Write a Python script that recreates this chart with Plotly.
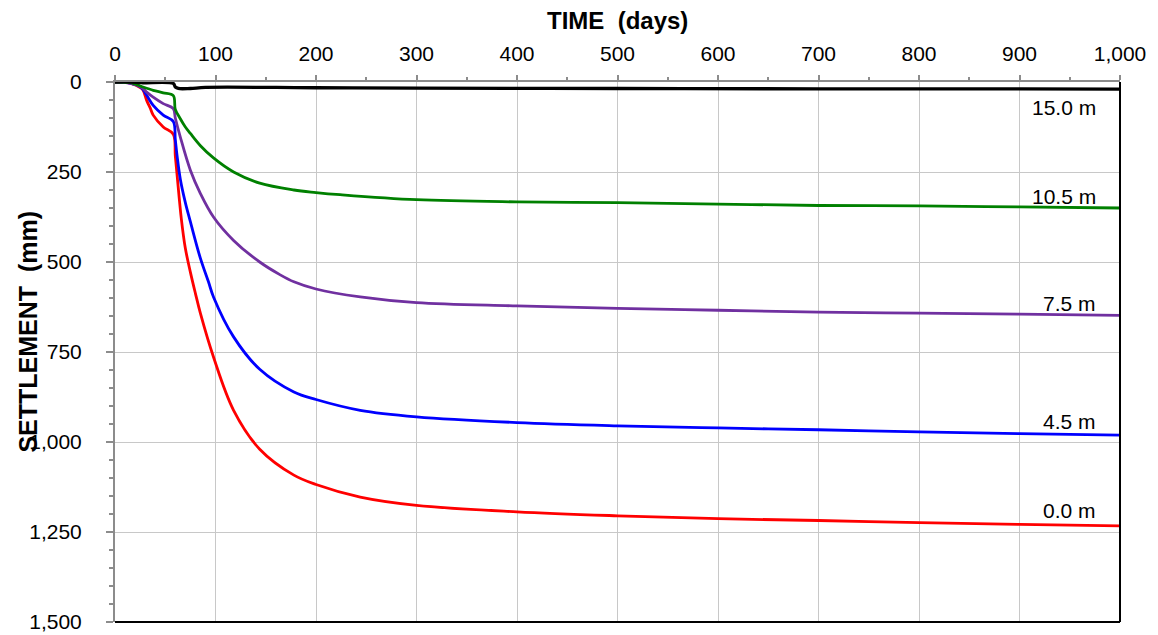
import plotly.graph_objects as go

# Settlement (mm) versus time (days) for points at several depths
days_00 = [0, 15, 26, 28, 31.5, 35, 38, 48, 58, 60, 62, 66, 70, 75, 80, 85, 98, 118, 144, 178, 200, 244, 300, 400, 500, 600, 700, 800, 900, 1000]
settle_00 = [0, 3, 17, 23, 51, 72, 92, 125, 145, 205, 265, 380, 462, 528, 587, 643, 764, 912, 1020, 1092, 1118, 1153, 1176, 1194, 1205, 1213, 1218, 1224, 1229, 1233]

days_45 = [0, 15, 26, 31.5, 38, 48, 58, 60, 62, 65, 70, 75, 85, 93, 98, 118, 144, 178, 200, 244, 300, 400, 500, 600, 700, 800, 900, 1000]
settle_45 = [0, 3, 15, 37, 65, 92, 110, 160, 210, 270, 335, 388, 490, 555, 597, 708, 798, 861, 882, 912, 930, 946, 955, 961, 966, 972, 977, 981]

days_75 = [0, 15, 26, 31.5, 38, 48, 58, 60, 65, 75, 85, 98, 118, 144, 164, 178, 200, 244, 300, 400, 500, 600, 700, 800, 900, 1000]
settle_75 = [0, 3, 14, 28, 42, 60, 74, 100, 153, 245, 310, 375, 440, 500, 535, 555, 575, 597, 613, 622, 629, 634, 639, 642, 645, 648]

days_105 = [0, 15, 26, 28, 38, 48, 58, 60, 65, 70, 75, 85, 98, 118, 144, 178, 200, 224, 300, 400, 500, 600, 700, 800, 900, 1000]
settle_105 = [0, 2, 12, 14, 23, 30, 38, 76, 102, 125, 143, 177, 211, 250, 281, 300, 307, 313, 327, 333, 335, 339, 343, 344, 347, 350]

days_150 = [0, 15, 26, 58, 60, 63, 75, 90, 200, 300, 500, 700, 900, 1000]
settle_150 = [0, 0, 2, 4, 14, 18, 18, 15, 16, 17, 18, 19, 19, 20]

series = [
    ("0.0 m", days_00, settle_00, "#FF0000", 2.8),
    ("4.5 m", days_45, settle_45, "#0000FF", 2.8),
    ("7.5 m", days_75, settle_75, "#7030A0", 2.8),
    ("10.5 m", days_105, settle_105, "#008000", 2.8),
    ("15.0 m", days_150, settle_150, "#000000", 3.3),
]

# Depth labels placed just above the right-hand end of each curve
label_text = ["15.0 m", "10.5 m", "7.5 m", "4.5 m", "0.0 m"]
label_y = [72, 317, 614, 942, 1190]
label_x = 978

FONT = "Liberation Sans, Arial, sans-serif"

fig = go.Figure()
for name, x, y, color, width in series:
    fig.add_trace(go.Scatter(
        x=x, y=y, mode="lines", name=name,
        line=dict(color=color, width=width, shape="spline", smoothing=1.0),
        showlegend=False,
    ))

for txt, yv in zip(label_text, label_y):
    fig.add_annotation(
        x=label_x, y=yv, xref="x", yref="y", text=txt,
        showarrow=False, xanchor="right", yanchor="middle",
        font=dict(family=FONT, size=21, color="black"),
    )

# Axis titles
fig.add_annotation(
    x=0.5, y=1.1148, xref="paper", yref="paper", text="<b>TIME  (days)</b>",
    showarrow=False, xanchor="center", yanchor="middle",
    font=dict(family=FONT, size=24, color="black"),
)
fig.add_annotation(
    x=-0.087, y=0.537, xref="paper", yref="paper", text="<b>SETTLEMENT  (mm)</b>",
    showarrow=False, xanchor="center", yanchor="middle", textangle=-90,
    font=dict(family=FONT, size=25, color="black"),
)

# Black frame on the bottom and right edges of the plot area
fig.add_shape(type="line", xref="paper", yref="paper", x0=0, y0=0, x1=1, y1=0,
              line=dict(color="black", width=2))
fig.add_shape(type="line", xref="paper", yref="paper", x0=1, y0=0, x1=1, y1=1,
              line=dict(color="black", width=2))

fig.update_layout(
    width=1158, height=635,
    margin=dict(l=115, r=38, t=82, b=13),
    paper_bgcolor="white", plot_bgcolor="white",
    font=dict(family=FONT, size=21, color="black"),
    xaxis=dict(
        side="top", range=[0, 1000], dtick=100, tick0=0, tickformat=",d",
        automargin=False,
        showgrid=True, gridcolor="#C8C8C8", gridwidth=1.3, zeroline=False,
        showline=True, linecolor="#8C8C8C", linewidth=2,
        ticks="outside", ticklen=5, tickcolor="#8C8C8C", tickwidth=1.5,
        ticklabelstandoff=6,
        minor=dict(dtick=50, ticks="outside", ticklen=3, tickcolor="#8C8C8C", tickwidth=1.5, showgrid=False),
        tickfont=dict(family=FONT, size=21, color="black"),
    ),
    yaxis=dict(
        range=[1500, 0], dtick=250, tick0=0, tickformat=",d",
        automargin=False,
        showgrid=True, gridcolor="#C8C8C8", gridwidth=1.3, zeroline=False,
        showline=True, linecolor="#8C8C8C", linewidth=2,
        ticks="outside", ticklen=7, tickcolor="#8C8C8C", tickwidth=1.5,
        ticklabelstandoff=20,
        minor=dict(dtick=50, ticks="outside", ticklen=4, tickcolor="#8C8C8C", tickwidth=1.5, showgrid=False),
        tickfont=dict(family=FONT, size=21, color="black"),
    ),
)

fig.write_html("out.html")
